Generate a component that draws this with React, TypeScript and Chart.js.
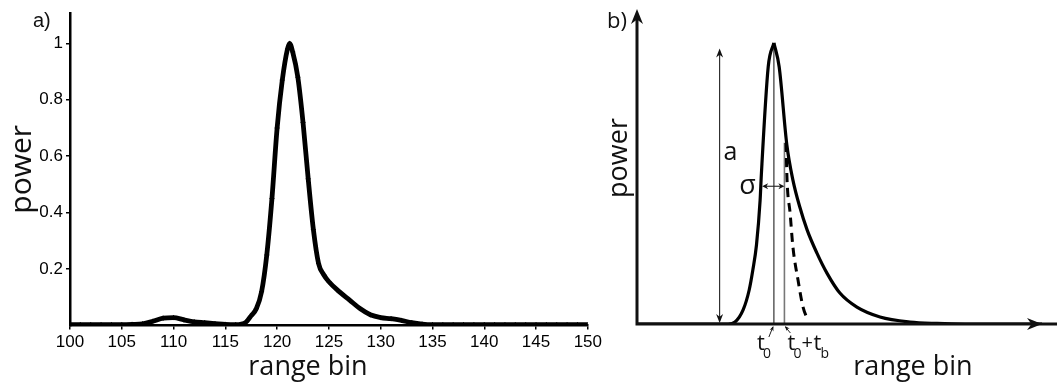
import React, { useEffect, useRef } from "react";
import { Chart, registerables } from "chart.js";

Chart.register(...registerables);

// ---- Panel a: measured echo power per range bin ----
const rangeBins = [
  100, 101, 102, 103, 104, 105, 106, 107, 108, 109, 110, 111, 112, 113, 114, 115, 116, 117,
  117.5, 118, 118.5, 119, 119.5, 120, 120.5, 121, 121.2, 121.5, 122, 122.5, 123, 123.5, 124,
  124.5, 125, 126, 127, 128, 129, 130, 131, 132, 133, 134, 135, 136, 137, 138, 139, 140, 141,
  142, 143, 144, 145, 146, 147, 148, 149, 150,
];
const powerValues = [
  0.003, 0.003, 0.003, 0.003, 0.003, 0.003, 0.004, 0.006, 0.015, 0.026, 0.028, 0.02, 0.013,
  0.01, 0.007, 0.004, 0.003, 0.012, 0.035, 0.06, 0.12, 0.25, 0.45, 0.7, 0.87, 0.98, 1.0, 0.97,
  0.88, 0.72, 0.52, 0.34, 0.22, 0.18, 0.155, 0.12, 0.09, 0.06, 0.038, 0.028, 0.024, 0.018, 0.01,
  0.005, 0.003, 0.003, 0.003, 0.003, 0.003, 0.003, 0.003, 0.003, 0.003, 0.003, 0.003, 0.003,
  0.003, 0.003, 0.003, 0.003,
];
const xTickValues = [100, 105, 110, 115, 120, 125, 130, 135, 140, 145, 150];
const yTickValues = [0.2, 0.4, 0.6, 0.8, 1];

// ---- Panel b: schematic pulse model ----
// rising (Gaussian) edge up to the peak
const riseBins = [0, 15, 22.5, 24.2, 26.2, 27.7, 28.6, 29.5, 30.4, 30.7, 32.4, 33.8];
const risePower = [0, 0, 0, 0.007, 0.05, 0.121, 0.192, 0.281, 0.441, 0.53, 0.915, 1.0];
// exponential tail after the peak
const tailBins = [33.8, 35.1, 37.0, 38.5, 40.2, 42.0, 44.4, 46.9, 50.1, 54.3, 60.0, 67.4, 74.1, 81, 100];
const tailPower = [1.0, 0.915, 0.637, 0.512, 0.416, 0.335, 0.253, 0.181, 0.11, 0.06, 0.025, 0.007, 0.002, 0, 0];
// Gaussian continuation of the rising edge (no exponential tail)
const gaussBins = [36.8, 37.05, 37.8, 38.5, 39.75, 41.0, 42.2];
const gaussPower = [0.644, 0.512, 0.395, 0.274, 0.157, 0.06, 0.014];

const t0 = 33.8; // peak position
const tb = 2.6; // onset of the exponential tail after t0
const tailStartPower = 0.645;
const amplitudeBin = 20.4;
const amplitude = 0.98;
const sigmaStartBin = 30.9;
const sigmaLevel = 0.49;

const INK = "#111";
const LABEL_FONT = '"Open Sans", "Noto Sans", sans-serif';
const TICK_FONT = '"Liberation Sans", Arial, sans-serif';

function arrowHead(
  ctx: CanvasRenderingContext2D,
  x: number,
  y: number,
  angle: number,
  len: number,
  half: number
) {
  ctx.save();
  ctx.translate(x, y);
  ctx.rotate(angle);
  ctx.beginPath();
  ctx.moveTo(0, 0);
  ctx.lineTo(-len, -half);
  ctx.lineTo(-len * 0.7, 0);
  ctx.lineTo(-len, half);
  ctx.closePath();
  ctx.fill();
  ctx.restore();
}

const panelALabels = {
  id: "panelALabels",
  afterDraw(chart: any) {
    const { ctx, chartArea } = chart;
    ctx.save();
    ctx.fillStyle = INK;
    ctx.font = `20px ${TICK_FONT}`;
    ctx.textAlign = "left";
    ctx.textBaseline = "alphabetic";
    ctx.fillText("a)", 33, 27);
    ctx.font = `27px ${LABEL_FONT}`;
    ctx.textAlign = "center";
    ctx.fillText("range bin", 308, 375);
    ctx.font = `30px ${LABEL_FONT}`;
    ctx.translate(31, (chartArea.top + chartArea.bottom) / 2);
    ctx.rotate(-Math.PI / 2);
    ctx.fillText("power", 0, 0);
    ctx.restore();
  },
};

const panelBDrawing = {
  id: "panelBDrawing",
  beforeDatasetsDraw(chart: any) {
    const { ctx, scales } = chart;
    const xs = scales.x;
    const ys = scales.y;
    const base = ys.getPixelForValue(0);
    ctx.save();
    // t0 and t0 + tb markers
    ctx.lineWidth = 1.2;
    ctx.strokeStyle = "#333";
    ctx.beginPath();
    ctx.moveTo(xs.getPixelForValue(t0), base);
    ctx.lineTo(xs.getPixelForValue(t0), ys.getPixelForValue(1));
    ctx.stroke();
    ctx.strokeStyle = "#777";
    ctx.lineWidth = 1.6;
    ctx.beginPath();
    ctx.moveTo(xs.getPixelForValue(t0 + tb), base);
    ctx.lineTo(xs.getPixelForValue(t0 + tb), ys.getPixelForValue(tailStartPower));
    ctx.stroke();
    ctx.restore();
  },
  afterDatasetsDraw(chart: any) {
    const { ctx, chartArea, scales, width } = chart;
    const xs = scales.x;
    const ys = scales.y;
    const base = ys.getPixelForValue(0);
    const left = chartArea.left;
    ctx.save();
    ctx.fillStyle = INK;
    ctx.strokeStyle = INK;

    // axes with arrow heads
    ctx.lineWidth = 3;
    ctx.beginPath();
    ctx.moveTo(left, base + 1.5);
    ctx.lineTo(left, chartArea.top + 6);
    ctx.moveTo(left - 1.5, base);
    ctx.lineTo(width, base);
    ctx.stroke();
    arrowHead(ctx, left, chartArea.top - 1, -Math.PI / 2, 15, 6);
    arrowHead(ctx, chartArea.right, base, 0, 15, 6);

    // amplitude arrow
    const ax = xs.getPixelForValue(amplitudeBin);
    const aTop = ys.getPixelForValue(amplitude);
    ctx.lineWidth = 1.1;
    ctx.strokeStyle = "#222";
    ctx.beginPath();
    ctx.moveTo(ax, aTop + 3);
    ctx.lineTo(ax, base - 3);
    ctx.stroke();
    arrowHead(ctx, ax, aTop, -Math.PI / 2, 9, 3.5);
    arrowHead(ctx, ax, base - 1, Math.PI / 2, 9, 3.5);

    // sigma arrow
    const sy = ys.getPixelForValue(sigmaLevel);
    const sx0 = xs.getPixelForValue(sigmaStartBin);
    const sx1 = xs.getPixelForValue(t0 + tb);
    ctx.beginPath();
    ctx.moveTo(sx0 + 2, sy);
    ctx.lineTo(sx1 - 2, sy);
    ctx.stroke();
    arrowHead(ctx, sx0, sy, Math.PI, 6, 3);
    arrowHead(ctx, sx1, sy, 0, 6, 3);

    // pointers to t0 and t0 + tb
    const p0 = xs.getPixelForValue(t0);
    const p1 = xs.getPixelForValue(t0 + tb);
    ctx.lineWidth = 1;
    ctx.beginPath();
    ctx.moveTo(p0 - 5, base + 13);
    ctx.lineTo(p0 - 1, base + 3);
    ctx.moveTo(p1 + 6, base + 9);
    ctx.lineTo(p1 + 1, base + 3);
    ctx.stroke();
    arrowHead(ctx, p0 - 0.5, base + 2, Math.atan2(-10, 4), 5, 2);
    arrowHead(ctx, p1 + 0.5, base + 2, Math.atan2(-6, -5), 5, 2);

    // text
    ctx.fillStyle = INK;
    ctx.textBaseline = "alphabetic";
    ctx.textAlign = "left";
    ctx.font = `22px ${LABEL_FONT}`;
    ctx.fillText("b)", 2, 28);
    ctx.font = `25px ${LABEL_FONT}`;
    ctx.fillText("a", ax + 4, 160);
    ctx.font = `27px ${LABEL_FONT}`;
    ctx.fillText("σ", sx0 - 23, sy + 8);

    ctx.font = `22px ${LABEL_FONT}`;
    ctx.fillText("t", p0 - 17, base + 26);
    ctx.font = `14px ${LABEL_FONT}`;
    ctx.fillText("0", p0 - 11, base + 34);
    ctx.font = `22px ${LABEL_FONT}`;
    ctx.fillText("t", p1 + 3, base + 26);
    ctx.font = `14px ${LABEL_FONT}`;
    ctx.fillText("0", p1 + 9, base + 34);
    ctx.font = `20px ${LABEL_FONT}`;
    ctx.fillText("+", p1 + 17, base + 25);
    ctx.font = `22px ${LABEL_FONT}`;
    ctx.fillText("t", p1 + 29, base + 26);
    ctx.font = `14px ${LABEL_FONT}`;
    ctx.fillText("b", p1 + 36, base + 34);

    ctx.font = `27px ${LABEL_FONT}`;
    ctx.textAlign = "center";
    ctx.fillText("range bin", 308, 375);
    ctx.translate(22, 158);
    ctx.rotate(-Math.PI / 2);
    ctx.fillText("power", 0, 0);
    ctx.restore();
  },
};

export default function App() {
  const refA = useRef<HTMLCanvasElement>(null);
  const refB = useRef<HTMLCanvasElement>(null);

  useEffect(() => {
    const tickFont = { family: TICK_FONT, size: 17 };
    const chartA = new Chart(refA.current!, {
      type: "line",
      data: {
        datasets: [
          {
            data: rangeBins.map((x, i) => ({ x, y: powerValues[i] })),
            borderColor: "#000",
            borderWidth: 4.8,
            pointStyle: "cross",
            pointRadius: 2.5,
            pointBorderWidth: 1,
            pointBorderColor: "#000",
            cubicInterpolationMode: "monotone",
            fill: false,
          },
        ],
      },
      options: {
        animation: false,
        responsive: false,
        maintainAspectRatio: false,
        layout: { padding: { top: 10, right: 15, left: 0, bottom: 0 } },
        plugins: { legend: { display: false }, tooltip: { enabled: false } },
        scales: {
          x: {
            type: "linear",
            min: 100,
            max: 150,
            afterBuildTicks: (s: any) => {
              s.ticks = xTickValues.map((v) => ({ value: v }));
            },
            afterFit: (s: any) => {
              s.height = 58.5;
            },
            grid: { drawOnChartArea: false, tickLength: 4, color: "#000", lineWidth: 1.5 },
            border: { color: "#000", width: 2.5 },
            ticks: { font: tickFont, color: "#000", padding: 3, maxRotation: 0, autoSkip: false },
          },
          y: {
            type: "linear",
            min: 0,
            max: 1.107,
            afterBuildTicks: (s: any) => {
              s.ticks = yTickValues.map((v) => ({ value: v }));
            },
            afterFit: (s: any) => {
              s.width = 70;
            },
            grid: { drawOnChartArea: false, tickLength: 4, color: "#000", lineWidth: 1.5 },
            border: { color: "#000", width: 2.5 },
            ticks: {
              font: tickFont,
              color: "#000",
              padding: 3,
              autoSkip: false,
              callback: (v: any) => String(v),
            },
          },
        },
      },
      plugins: [panelALabels],
    } as any);

    const curveStyle = {
      borderColor: "#000",
      pointRadius: 0,
      cubicInterpolationMode: "monotone",
      fill: false,
    };
    const chartB = new Chart(refB.current!, {
      type: "line",
      data: {
        datasets: [
          {
            ...curveStyle,
            data: riseBins.map((x, i) => ({ x, y: risePower[i] })),
            borderWidth: 3.2,
          },
          {
            ...curveStyle,
            data: tailBins.map((x, i) => ({ x, y: tailPower[i] })),
            borderWidth: 3.2,
          },
          {
            ...curveStyle,
            data: gaussBins.map((x, i) => ({ x, y: gaussPower[i] })),
            borderWidth: 3,
            borderDash: [9, 6],
          },
        ],
      },
      options: {
        animation: false,
        responsive: false,
        maintainAspectRatio: false,
        layout: { padding: { top: 10, right: 15, left: 32, bottom: 60 } },
        plugins: { legend: { display: false }, tooltip: { enabled: false } },
        scales: {
          x: { type: "linear", min: 0, max: 100, display: false },
          y: { type: "linear", min: 0, max: 1.117, display: false },
        },
      },
      plugins: [panelBDrawing],
    } as any);

    return () => {
      chartA.destroy();
      chartB.destroy();
    };
  }, []);

  return (
    <div
      style={{
        position: "absolute",
        left: 0,
        top: 0,
        width: 1057,
        height: 384,
        background: "#fff",
        overflow: "hidden",
      }}
    >
      <canvas
        ref={refA}
        width={605}
        height={384}
        style={{ position: "absolute", left: 0, top: 0, width: 605, height: 384 }}
      />
      <canvas
        ref={refB}
        width={452}
        height={384}
        style={{ position: "absolute", left: 605, top: 0, width: 452, height: 384 }}
      />
    </div>
  );
}
